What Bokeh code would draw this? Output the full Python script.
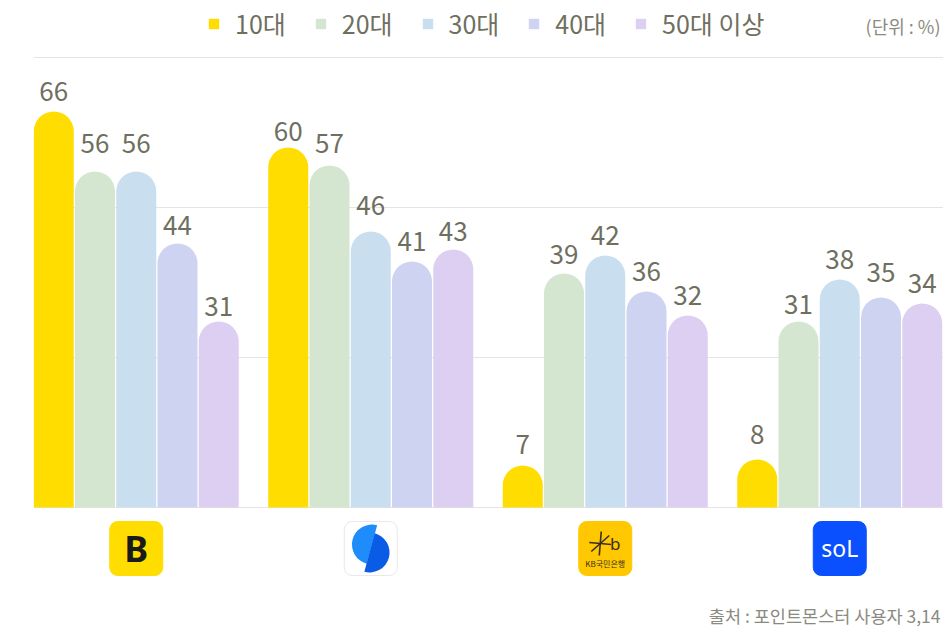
from bokeh.plotting import figure
from bokeh.models import Range1d, FixedTicker, Legend, LegendItem, ColumnDataSource
from bokeh.core.properties import value
from bokeh.embed import file_html
from bokeh.resources import INLINE

groups = [0, 1, 2, 3]
ages = ["10대", "20대", "30대", "40대", "50대 이상"]
teens = [66, 60, 7, 8]
twenties = [56, 57, 39, 31]
thirties = [56, 46, 42, 38]
forties = [44, 41, 36, 35]
fifties = [31, 43, 32, 34]
series = [teens, twenties, thirties, forties, fifties]
# extra lift of each value label above its bar, in pixels
label_lifts = [[20, 16, 21, 25],
               [28, 22, 19, 17],
               [28, 26, 20, 20],
               [18, 20, 20, 25],
               [15, 18, 20, 20]]
colors = ["#FFDD00", "#D5E6D0", "#C9DFF0", "#CDD3F0", "#DDCFF1"]
logo_colors = ["#FFDD00", "#FFFFFF", "#FFC800", "#0B50FF"]
logo_lines = ["#FFDD00", "#E8E8EC", "#FFC800", "#0B50FF"]
unit_text = "(단위 : %)"
source_text = "출처 : 포인트몬스터 사용자 3,14"
grid_values = [0, 25, 50, 75]

KR = value("Noto Sans CJK KR")
LABEL = "#6F6F60"
STEP = 0.1759
BAR_W = 0.1706
PX = 1 / 234.5   # one pixel in x units
PY = 1 / 6       # one pixel in y units

p = figure(width=943, height=629, output_backend="svg", toolbar_location=None,
           x_range=Range1d(-0.4382, 3.4424), y_range=Range1d(-20.33, 84.5),
           min_border_left=33, min_border_right=0, min_border_top=0, min_border_bottom=0,
           background_fill_color="white", border_fill_color="white", outline_line_color=None)
p.xaxis.visible = False
p.yaxis.visible = False
p.xgrid.visible = False
p.ygrid.ticker = FixedTicker(ticks=grid_values)
p.ygrid.grid_line_color = "#E4E4E4"
p.ygrid.grid_line_width = 1

items = []
for k, (name, vals, col) in enumerate(zip(ages, series, colors)):
    src = ColumnDataSource(dict(x=[g + (k - 2) * STEP for g in groups], top=vals,
                                label=[str(v) for v in vals],
                                off=[-l for l in label_lifts[k]]))
    r = p.vbar(x="x", top="top", bottom=0, width=BAR_W, source=src, fill_color=col,
               line_color=None, border_radius=(20, 20, 0, 0))
    p.text(x="x", y="top", text="label", source=src, text_font=KR, text_font_size="26px",
           text_color=LABEL, text_align="center", text_baseline="alphabetic", y_offset="off")
    items.append(LegendItem(label=name, renderers=[r]))

legend = Legend(items=items, orientation="horizontal", location=(174, 588),
                border_line_color=None, background_fill_alpha=0, padding=0, margin=0,
                glyph_width=13, glyph_height=13, label_standoff=15, spacing=28,
                label_text_font="Noto Sans CJK KR", label_text_font_size="25px",
                label_text_color=LABEL, label_height=30)
p.add_layout(legend, "center")

# app logos
LOGO_TOP, LOGO_BOTTOM = -2.33, -11.33
p.vbar(x=groups, top=LOGO_TOP, bottom=LOGO_BOTTOM, width=0.226, fill_color=logo_colors,
       line_color=logo_lines, border_radius=8)
mid = (LOGO_TOP + LOGO_BOTTOM) / 2
p.text(x=[0], y=[mid], text=["B"], text_font=value("Noto Sans"), text_font_style="bold",
       text_font_size="36px", text_color="#1A1A1A", text_align="center", text_baseline="middle")
p.wedge(x=[1 + 1.2 * PX], y=[mid + 4 * PY], radius=20, radius_units="screen", start_angle=75, end_angle=255,
        start_angle_units="deg", end_angle_units="deg", fill_color="#1E8CFA", line_color=None)
p.wedge(x=[1 - 1.2 * PX], y=[mid - 4 * PY], radius=20, radius_units="screen", start_angle=-105, end_angle=75,
        start_angle_units="deg", end_angle_units="deg", fill_color="#0A5CE6", line_color=None)
# KB star, strokes around a centre
sx, sy = 2 - 5 * PX, mid + 5 * PY
p.segment(x0=[sx - 11 * PX, sx - 9 * PX, sx + 1 * PX], y0=[sy + 1 * PY, sy - 8 * PY, sy + 12 * PY],
          x1=[sx + 11 * PX, sx + 9 * PX, sx - 1 * PX], y1=[sy - 1 * PY, sy + 8 * PY, sy - 12 * PY],
          line_color="#3A3020", line_width=1.6)
p.text(x=[2 + 10 * PX], y=[sy], text=["b"], text_font=value("Noto Sans"), text_font_size="17px",
       text_color="#3A3020", text_align="center", text_baseline="middle")
p.text(x=[2], y=[mid - 15 * PY], text=["KB국민은행"], text_font=KR, text_font_size="8px",
       text_color="#3A3020", text_align="center", text_baseline="middle")
p.text(x=[3], y=[mid], text=["soL"], text_font=value("Noto Sans"),
       text_font_size="23px", text_color="white", text_align="center", text_baseline="middle")

# notes
p.text(x=[3.4424], y=[80.2], text=[unit_text], text_font=KR, text_font_size="18px",
       text_color="#8A8A80", text_align="right", text_baseline="middle", x_offset=-3)
p.text(x=[3.4424], y=[-18.0], text=[source_text], text_font=KR, text_font_size="17.5px",
       text_color="#8A8A80", text_align="right", text_baseline="middle", x_offset=-3)

open("out.html", "w").write(file_html(p, INLINE))
